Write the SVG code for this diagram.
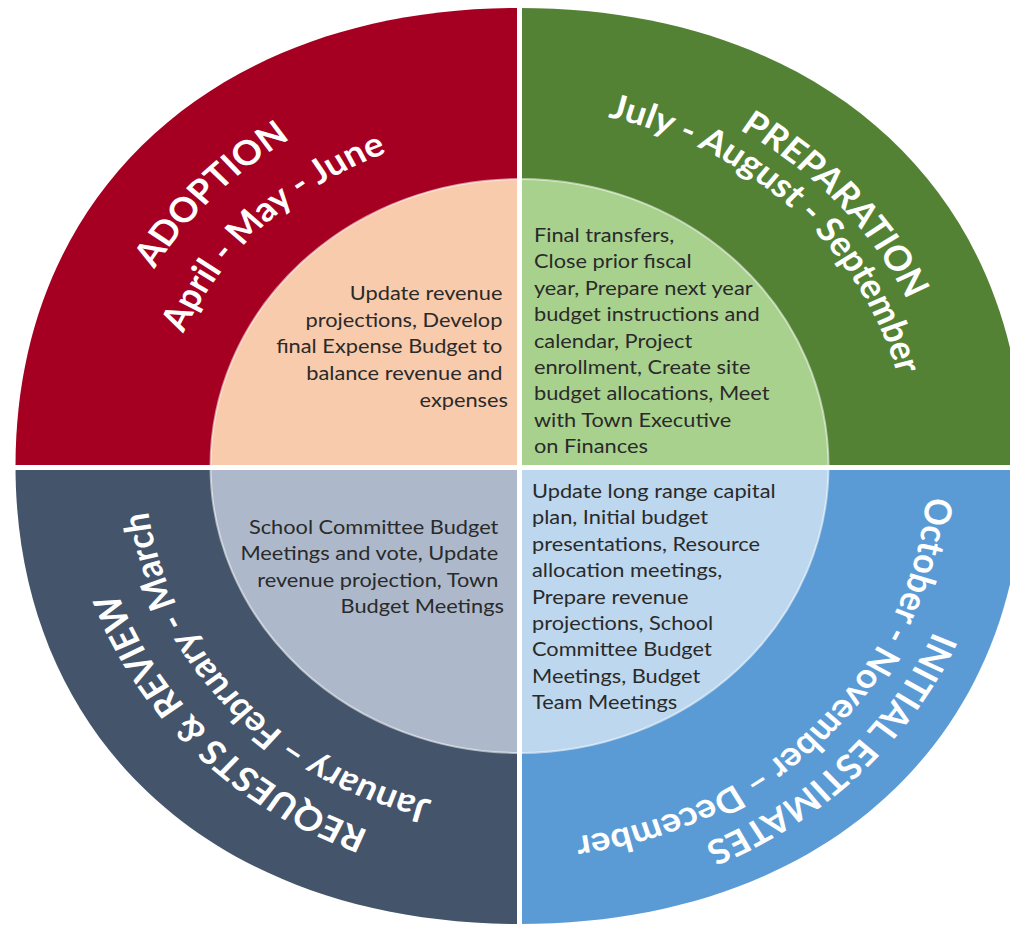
<svg xmlns="http://www.w3.org/2000/svg" xmlns:xlink="http://www.w3.org/1999/xlink" width="1010" height="925" viewBox="0 0 1010 925">
  <style>
    .title { font-family: Lato, "Open Sans", "Liberation Sans", sans-serif; font-weight: 700; font-size: 34px; fill: #ffffff; }
    .body { font-family: Lato, "Open Sans", "Liberation Sans", sans-serif; font-size: 20px; fill: #2a2a2a; }
    .sep { stroke: #ffffff; stroke-width: 5; }
    .edge { fill: none; stroke: #ffffff; stroke-opacity: 0.55; stroke-width: 2; }
  </style>
  <defs>
    <!-- baselines for the ring labels, drawn as circles in an unstretched frame centred on (520,466) -->
    <path id="tl-title" d="M131,466 A389,389 0 0 1 520,77"/>
    <path id="tl-months" d="M184,466 A336,336 0 0 1 520,130"/>
    <path id="tr-title" d="M520,74 A392,392 0 0 1 912,466"/>
    <path id="tr-months" d="M520,108 A358,358 0 0 1 878,466"/>
    <path id="br-title" d="M934,466 A414,414 0 0 1 520,880"/>
    <path id="br-months" d="M894,466 A374,374 0 0 1 520,840"/>
    <path id="bl-title" d="M520,856 A390,390 0 0 1 130,466"/>
    <path id="bl-months" d="M520,810 A344,344 0 0 1 176,466"/>
  </defs>

  <rect width="1010" height="925" fill="#ffffff"/>

  <!-- Adoption: April - June -->
  <g id="adoption">
    <path fill="#A50021" d="M519.5,466 L15.5,466 C15.5,191.2 217.1,8 519.5,8 Z"/>
    <path fill="#F8CBAD" d="M519.5,466 L210.5,466 A309,287 0 0 1 519.5,179 Z"/>
    <g transform="matrix(1.09 0 0 1 -46.8 0)">
      <text class="title" text-anchor="middle"><textPath xlink:href="#tl-title" startOffset="48.7%">ADOPTION</textPath></text>
      <text class="title" text-anchor="middle"><textPath xlink:href="#tl-months" startOffset="51.1%">April - May - June</textPath></text>
      <text class="body" text-anchor="end">
        <tspan x="509" y="300">Update revenue</tspan>
        <tspan x="509" y="326.7">projections, Develop</tspan>
        <tspan x="509" y="353.3">final Expense Budget to</tspan>
        <tspan x="509" y="380">balance revenue and</tspan>
        <tspan x="509" y="406.7">expenses</tspan>
      </text>
    </g>
  </g>

  <!-- Preparation: July - September -->
  <g id="preparation">
    <path fill="#548235" d="M519.5,466 L519.5,8 C821.9,8 1023.5,191.2 1023.5,466 Z"/>
    <path fill="#A9D18E" d="M519.5,466 L519.5,179 A309,287 0 0 1 828.5,466 Z"/>
    <g transform="matrix(1.09 0 0 1 -46.8 0)">
      <text class="title" text-anchor="middle"><textPath xlink:href="#tr-title" startOffset="53.2%">PREPARATION</textPath></text>
      <text class="title" text-anchor="middle"><textPath xlink:href="#tr-months" startOffset="49%">July - August - September</textPath></text>
      <text class="body">
        <tspan x="532.8" y="242">Final transfers,</tspan>
        <tspan x="532.8" y="268.4">Close prior fiscal</tspan>
        <tspan x="532.8" y="294.8">year, Prepare next year</tspan>
        <tspan x="532.8" y="321.2">budget instructions and</tspan>
        <tspan x="532.8" y="347.6">calendar, Project</tspan>
        <tspan x="532.8" y="374">enrollment, Create site</tspan>
        <tspan x="532.8" y="400.4">budget allocations, Meet</tspan>
        <tspan x="532.8" y="426.8">with Town Executive</tspan>
        <tspan x="532.8" y="453.2">on Finances</tspan>
      </text>
    </g>
  </g>

  <!-- Initial estimates: October - December -->
  <g id="initial-estimates">
    <path fill="#5B9BD5" d="M519.5,466 L1023.5,466 C1023.5,740.8 821.9,924 519.5,924 Z"/>
    <path fill="#BDD7EE" d="M519.5,466 L828.5,466 A309,287 0 0 1 519.5,753 Z"/>
    <g transform="matrix(1.09 0 0 1 -46.8 0)">
      <text class="title" text-anchor="middle"><textPath xlink:href="#br-title" startOffset="49.7%">INITIAL ESTIMATES</textPath></text>
      <text class="title" text-anchor="middle"><textPath xlink:href="#br-months" startOffset="48.3%">October - November – December</textPath></text>
      <text class="body">
        <tspan x="531" y="498">Update long range capital</tspan>
        <tspan x="531" y="524.4">plan, Initial budget</tspan>
        <tspan x="531" y="550.8">presentations, Resource</tspan>
        <tspan x="531" y="577.2">allocation meetings,</tspan>
        <tspan x="531" y="603.6">Prepare revenue</tspan>
        <tspan x="531" y="630">projections, School</tspan>
        <tspan x="531" y="656.4">Committee Budget</tspan>
        <tspan x="531" y="682.8">Meetings, Budget</tspan>
        <tspan x="531" y="709.2">Team Meetings</tspan>
      </text>
    </g>
  </g>

  <!-- Requests & review: January - March -->
  <g id="requests-review">
    <path fill="#44546A" d="M519.5,466 L519.5,924 C217.1,924 15.5,740.8 15.5,466 Z"/>
    <path fill="#ADB9CA" d="M519.5,466 L519.5,753 A309,287 0 0 1 210.5,466 Z"/>
    <g transform="matrix(1.09 0 0 1 -46.8 0)">
      <text class="title" text-anchor="middle"><textPath xlink:href="#bl-title" startOffset="51.1%">REQUESTS &amp; REVIEW</textPath></text>
      <text class="title" text-anchor="middle"><textPath xlink:href="#bl-months" startOffset="53.3%">January – February - March</textPath></text>
      <text class="body" text-anchor="end">
        <tspan x="505.3" y="534">School Committee Budget</tspan>
        <tspan x="505.3" y="560.5">Meetings and vote, Update</tspan>
        <tspan x="505.3" y="587">revenue projection, Town</tspan>
        <tspan x="505.3" y="613.5">Budget Meetings</tspan>
      </text>
    </g>
  </g>

  <!-- inner ring outline and quadrant dividers -->
  <g id="dividers">
    <ellipse class="edge" cx="519.5" cy="466" rx="309" ry="287"/>
    <line class="sep" x1="519.5" y1="0" x2="519.5" y2="925"/>
    <line class="sep" x1="0" y1="467.5" x2="1010" y2="467.5"/>
  </g>
</svg>
